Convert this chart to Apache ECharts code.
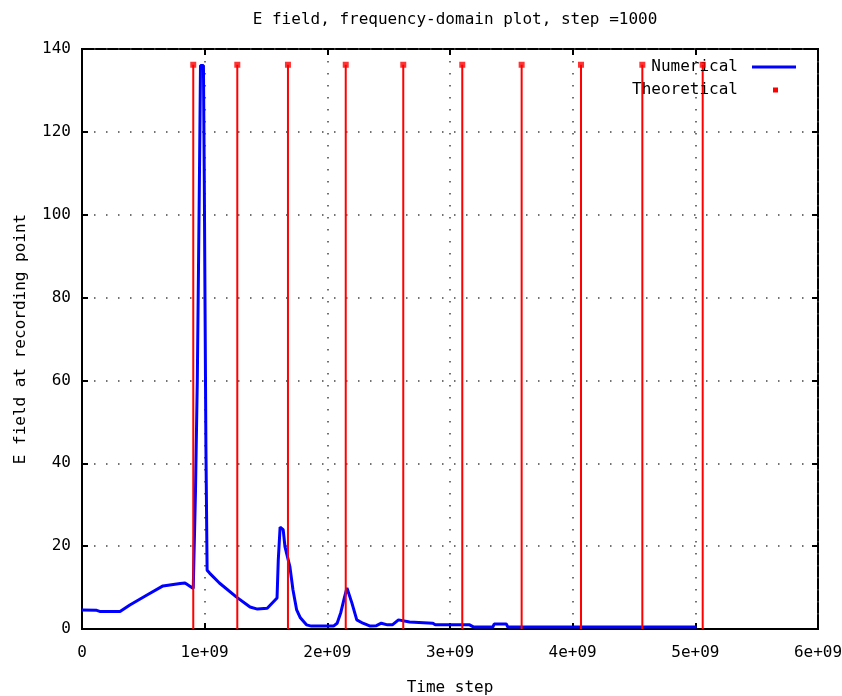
<!DOCTYPE html>
<html>
<head>
<meta charset="utf-8">
<script src="https://cdn.jsdelivr.net/npm/echarts@6/dist/echarts.min.js"></script>
<style>
  html, body { margin: 0; padding: 0; background: #fff; }
  #fieldPlot { width: 842px; height: 696px; }
</style>
</head>
<body>
<div id="fieldPlot"></div>
<script>
// numerical result, time step in units of 1e9
const numStep = [0, 0.12, 0.15, 0.31, 0.39, 0.53, 0.66, 0.80, 0.84, 0.907,
  0.925, 0.94, 0.95, 0.958, 0.966, 0.99, 0.997, 1.003, 1.01, 1.02,
  1.04, 1.12, 1.26, 1.37, 1.43, 1.51, 1.59, 1.60, 1.615, 1.64,
  1.655, 1.695, 1.72, 1.75, 1.78, 1.83, 1.87, 2.05, 2.08, 2.11,
  2.14, 2.16, 2.20, 2.24, 2.29, 2.35, 2.40, 2.44, 2.49, 2.53,
  2.58, 2.67, 2.86, 2.88, 3.16, 3.19, 3.35, 3.36, 3.46, 3.47, 5.01];
const numField = [4.6, 4.5, 4.2, 4.2, 5.8, 8.2, 10.4, 11.0, 11.1, 9.8,
  33, 60, 88, 111, 136, 136, 108, 78, 44.5, 14.2,
  13.5, 11.1, 7.7, 5.3, 4.8, 5.0, 7.5, 16.6, 24.6, 24.0,
  19.8, 15, 9.4, 4.6, 2.7, 1.0, 0.7, 0.7, 1.4, 4.0,
  7.7, 9.9, 6.3, 2.2, 1.4, 0.7, 0.8, 1.4, 1.0, 1.0,
  2.2, 1.7, 1.4, 1.0, 1.0, 0.5, 0.5, 1.2, 1.2, 0.5, 0.5];

// theoretical resonances, time step in units of 1e9
const theoStep = [0.907, 1.266, 1.679, 2.150, 2.619, 3.100, 3.584, 4.068, 4.568, 5.060];
const theoField = [136.2, 136.2, 136.2, 136.2, 136.2, 136.2, 136.2, 136.2, 136.2, 136.2];

const xTicks = [0, 1e9, 2e9, 3e9, 4e9, 5e9, 6e9];
const yTicks = [0, 20, 40, 60, 80, 100, 120, 140];

const font = "'DejaVu Sans Mono', monospace";
const fontSize = 16;

let chart = echarts.init(document.getElementById("fieldPlot"));

let numData = numStep.map((s, i) => [s * 1e9, numField[i]]);
let theoData = theoStep.map((s, i) => [s * 1e9, theoField[i]]);

let tickFormat = (v) => {
  if (v === 0) return "0";
  return v / 1e9 + "e+09";
};

let mirrorAxis = {
  axisLine: { show: false, onZero: false },
  axisTick: { show: true, inside: true, length: 6, lineStyle: { color: "#000", width: 2 } },
  axisLabel: { show: false },
  splitLine: { show: false },
};

let option = {
  animation: false,
  backgroundColor: "#fff",
  textStyle: { fontFamily: font },
  title: {
    text: "E field, frequency-domain plot, step =1000",
    left: 450,
    textAlign: "center",
    top: 7,
    textStyle: { fontFamily: font, fontSize: fontSize, fontWeight: "normal", color: "#000" },
  },
  legend: [
    {
      data: ["Numerical"],
      right: 41,
      top: 54,
      align: "right",
      itemWidth: 53,
      itemHeight: 3,
      icon: "path://M0,0M53,3M9,0h44v3h-44z",
      itemStyle: { borderWidth: 0 },
      textStyle: { fontFamily: font, fontSize: fontSize, color: "#000" },
      selectedMode: false,
    },
    {
      data: ["Theoretical"],
      right: 41,
      top: 77,
      align: "right",
      itemWidth: 53,
      itemHeight: 5,
      icon: "path://M0,0M53,5M30,0h5v5h-5z",
      itemStyle: { borderWidth: 0 },
      textStyle: { fontFamily: font, fontSize: fontSize, color: "#000" },
      selectedMode: false,
    },
  ],
  grid: {
    left: 82,
    right: 24,
    top: 49,
    bottom: 67,
    show: true,
    borderColor: "#000",
    borderWidth: 2,
    containLabel: false,
    outerBoundsMode: "none",
  },
  xAxis: [
    {
      type: "value",
      min: xTicks[0],
      max: xTicks[xTicks.length - 1],
      interval: 1e9,
      name: "Time step",
      nameLocation: "middle",
      nameGap: 51,
      nameTextStyle: { fontFamily: font, fontSize: fontSize, color: "#000" },
      axisLine: { show: true, onZero: false, lineStyle: { color: "#000", width: 2 } },
      axisTick: { show: true, inside: true, length: 6, lineStyle: { color: "#000", width: 2 } },
      axisLabel: { formatter: tickFormat, margin: 16, fontFamily: font, fontSize: fontSize, color: "#000" },
      splitLine: { show: true, lineStyle: { color: "#444", width: 1.5, type: [1.5, 10.5] } },
    },
    Object.assign({ type: "value", position: "top", min: 0, max: 6e9, interval: 1e9 }, mirrorAxis),
  ],
  yAxis: [
    {
      type: "value",
      min: yTicks[0],
      max: yTicks[yTicks.length - 1],
      interval: 20,
      name: "E field at recording point",
      nameLocation: "middle",
      nameGap: 53,
      nameTextStyle: { fontFamily: font, fontSize: fontSize, color: "#000" },
      axisLine: { show: true, onZero: false, lineStyle: { color: "#000", width: 2 } },
      axisTick: { show: true, inside: true, length: 6, lineStyle: { color: "#000", width: 2 } },
      axisLabel: { margin: 11, fontFamily: font, fontSize: fontSize, color: "#000" },
      splitLine: { show: true, lineStyle: { color: "#444", width: 1.5, type: [1.5, 10.5] } },
    },
    Object.assign({ type: "value", position: "right", min: 0, max: 140, interval: 20 }, mirrorAxis),
  ],
  series: [
    {
      name: "Numerical",
      type: "line",
      data: numData,
      color: "#0000ff",
      showSymbol: false,
      symbol: "none",
      lineStyle: { color: "#0000ff", width: 3 },
      z: 2,
    },
    {
      name: "Theoretical",
      type: "bar",
      data: theoData,
      color: "#ff0000",
      barWidth: 2,
      itemStyle: { color: "#ff0000" },
      z: 3,
    },
    {
      name: "Theoretical",
      type: "scatter",
      data: theoData,
      color: "#ff0000",
      symbol: "rect",
      symbolSize: 6,
      itemStyle: { color: "#ff0000" },
      z: 4,
    },
  ],
};
chart.setOption(option);
</script>
</body>
</html>
